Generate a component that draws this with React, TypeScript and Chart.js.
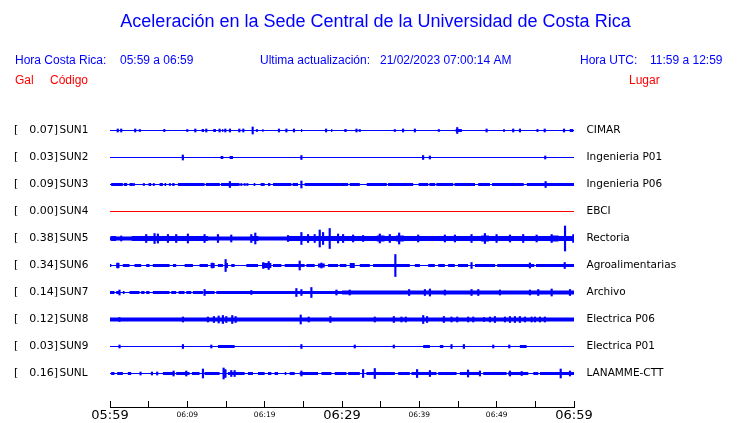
import React, { useEffect, useRef } from 'react';
import { Chart, registerables } from 'chart.js';

Chart.register(...registerables);

// ---------------- data ----------------
const titleText = 'Aceleración en la Sede Central de la Universidad de Costa Rica';
const localWindow = '05:59 a 06:59';
const utcWindow = '11:59 a 12:59';
const lastUpdate = '21/02/2023 07:00:14 AM';

const windowMinutes = 60; // minutes shown, starting 05:59
const tickMinutes = [0, 5, 10, 15, 20, 25, 30, 35, 40, 45, 50, 55, 60];
const tickLabels = ['05:59', '', '06:09', '', '06:19', '', '06:29', '', '06:39', '', '06:49', '', '06:59'];
const majorTickLabels = ['05:59', '06:29', '06:59'];

const stationCodes = ['SUN1', 'SUN2', 'SUN3', 'SUN4', 'SUN5', 'SUN6', 'SUN7', 'SUN8', 'SUN9', 'SUNL'];
const stationPlaces = ['CIMAR', 'Ingenieria P01', 'Ingenieria P06', 'EBCI', 'Rectoria', 'Agroalimentarias', 'Archivo', 'Electrica P06', 'Electrica P01', 'LANAMME-CTT'];
const peakGal = [0.07, 0.03, 0.09, 0.0, 0.38, 0.34, 0.14, 0.12, 0.03, 0.16];
// quiet-trace half amplitude (counts)
const quietLevel = [0.5, 0.5, 0.5, 0.5, 2, 0.5, 0.5, 2, 0.5, 0.5];

// bursts: [startMinute, endMinute, halfAmplitude]
const sun1Bursts = [[6.9, 7.15, 1.5], [11.85, 12.15, 1.5], [13.35, 13.7, 1.5], [14.5, 14.65, 1.5], [19.7, 19.85, 1.5], [24.7, 24.85, 1.5], [28.6, 28.75, 1.5], [30.3, 30.6, 1.5], [44.7, 45.5, 1.5], [50.85, 51.05, 1.5], [55.15, 55.4, 1.5], [59.45, 59.9, 1.5]];
const sun2Bursts = [[14.3, 14.65, 1.5], [15.47, 15.9, 1.5]];
const sun3Bursts = [[0.15, 1.66, 1.5], [1.79, 2.22, 1.5], [2.52, 2.96, 1.5], [4.98, 5.33, 1.5], [6.41, 6.84, 1.5], [7.05, 7.27, 1.5], [8.05, 8.35, 1.5], [8.78, 12.23, 1.5], [12.4, 14.2, 1.5], [14.35, 16.76, 1.5], [18.58, 18.79, 1.5], [19.48, 20.0, 1.5], [20.43, 20.73, 1.5], [21.08, 23.45, 1.5], [23.6, 24.31, 1.5], [25.17, 30.79, 1.5], [31.0, 32.3, 1.5], [33.2, 35.8, 1.5], [35.95, 39.2, 1.5], [39.9, 41.15, 1.5], [41.3, 42.05, 1.5], [42.2, 44.38, 1.5], [44.55, 47.2, 1.5], [47.6, 49.13, 1.5], [49.4, 53.5, 1.5], [53.9, 60, 1.5]];
const sun4Bursts = [];
const sun5Bursts = [[0.15, 0.8, 2.5], [2.8, 12.7, 2.5], [18.2, 19.2, 2.5], [23.0, 30.0, 2.5], [30.0, 34.5, 2.5], [34.5, 35.5, 3], [35.5, 37.0, 2.5], [37.0, 38.0, 3], [38.0, 48.0, 2.5], [48.0, 49.0, 3], [49.0, 57.0, 2.5], [57.0, 58.0, 3], [58.0, 60, 2.5]];
const sun6Bursts = [[0, 0.17, 1.5], [0.8, 1.23, 2.5], [1.66, 2.52, 1.5], [3.17, 4.03, 1.5], [4.68, 5.11, 1.5], [5.54, 7.7, 1.5], [8.14, 8.56, 1.5], [9.65, 10.72, 1.5], [11.58, 12.66, 1.5], [13.01, 13.53, 2.5], [13.96, 14.6, 1.5], [14.96, 15.25, 2.5], [15.68, 16.12, 1.5], [17.63, 19.14, 1.5], [19.66, 20.86, 2.5], [21.08, 22.16, 1.5], [22.59, 25.17, 1.5], [25.4, 26.47, 1.5], [26.9, 27.77, 2], [28.2, 29.49, 1.5], [29.71, 30.57, 1.5], [31.0, 31.65, 2.5], [32.3, 33.6, 1.5], [34.02, 38.77, 1.5], [39.42, 40.07, 1.5], [41.15, 42.0, 1.5], [42.44, 43.3, 1.5], [43.72, 44.59, 1.5], [45.0, 46.3, 1.5], [47.2, 49.8, 1.5], [50.07, 54.87, 1.5], [55.09, 60, 1.5]];
const sun7Bursts = [[0, 0.58, 1.5], [0.8, 1.23, 1.5], [1.66, 1.88, 1.5], [2.52, 3.82, 1.5], [4.03, 4.47, 1.5], [4.68, 5.11, 1.5], [5.54, 7.7, 1.5], [7.92, 8.56, 1.5], [8.87, 9.64, 1.5], [9.86, 10.51, 1.5], [10.72, 12.02, 1.5], [12.23, 13.53, 1.5], [13.74, 30.0, 1.5], [30.0, 60, 2]];
const sun8Bursts = [];
const sun9Bursts = [[13.96, 16.12, 1.5], [40.5, 41.36, 1.5], [42.65, 43.1, 1.5], [53.0, 53.87, 1.5]];
const sunlBursts = [[0.15, 0.58, 1.5], [0.93, 1.66, 1.5], [2.31, 2.74, 1.5], [6.84, 8.35, 1.5], [8.56, 10.29, 1.5], [10.59, 11.58, 1.5], [12.23, 14.17, 1.5], [14.6, 15.04, 3.5], [15.25, 17.41, 1.5], [17.84, 18.49, 1.5], [19.14, 20.0, 1.5], [20.43, 20.86, 1.5], [21.29, 21.73, 1.5], [22.59, 22.8, 1.5], [23.23, 23.88, 1.5], [24.53, 26.9, 1.5], [27.34, 28.63, 1.5], [29.06, 30.57, 1.5], [30.79, 32.3, 1.5], [33.16, 36.83, 1.5], [37.26, 38.77, 1.5], [38.98, 42.22, 1.5], [42.44, 44.81, 1.5], [45.24, 47.84, 1.5], [48.26, 51.28, 1.5], [51.5, 54.09, 1.5], [54.74, 55.38, 1.5], [55.6, 60, 1.5]];

// spikes: [minute, halfAmplitude]
const sun1Spikes = [[1.0, 1.5], [1.45, 1.5], [3.26, 1.5], [3.86, 1.0], [9.99, 1.0], [11.03, 1.5], [12.45, 1.5], [14.17, 1.5], [14.91, 1.5], [15.51, 1.5], [16.72, 1.5], [17.24, 1.5], [18.45, 3.5], [19.0, 1.0], [21.85, 1.5], [22.81, 1.5], [23.79, 1.5], [27.94, 1.5], [31.87, 1.5], [32.3, 1.0], [36.83, 1.0], [37.9, 1.5], [39.42, 1.5], [42.52, 1.0], [44.9, 3.0], [48.7, 1.5], [52.14, 1.5], [53.01, 1.5], [56.21, 1.5], [58.71, 1.5]];
const sun2Spikes = [[9.42, 2.5], [24.75, 2], [40.49, 2], [41.36, 1.5], [56.28, 1.5]];
const sun3Spikes = [[3.09, 1.0], [4.38, 1.0], [5.67, 1.0], [7.75, 1.0], [15.5, 3], [16.98, 1.0], [17.41, 1.0], [17.76, 1.0], [24.75, 3.5], [56.33, 3]];
const sun4Spikes = [];
const sun5Spikes = [[1.45, 2.5], [4.68, 4], [5.76, 5], [6.19, 4.5], [7.49, 4], [8.56, 4], [10.07, 4.5], [12.23, 4], [13.96, 4], [15.68, 3.5], [18.27, 4], [18.79, 5.5], [23.02, 3], [24.75, 6], [25.61, 4], [26.47, 4], [27.12, 8.5], [27.55, 6], [28.41, 10], [29.49, 4.5], [30.14, 4], [31.44, 3.5], [32.73, 3], [34.89, 4.5], [36.18, 4], [37.39, 5.5], [39.85, 3.5], [43.3, 3.5], [44.6, 3.5], [46.75, 4], [48.48, 5], [49.99, 4], [51.72, 3.5], [53.43, 4], [55.17, 3.5], [57.11, 4], [58.84, 12.5], [59.91, 4]];
const sun6Spikes = [[1.01, 2.5], [13.23, 2.5], [14.95, 6], [19.83, 3], [20.52, 4], [24.53, 4.5], [27.34, 2.5], [36.9, 11], [46.75, 3], [54.3, 2.5], [58.8, 3]];
const sun7Spikes = [[1.23, 2.5], [12.23, 3], [18.27, 2], [24.1, 4], [24.75, 3], [26.04, 5], [29.28, 2.5], [31.0, 2.5], [38.68, 3], [40.72, 3], [41.37, 3.5], [43.3, 2.5], [46.75, 3], [47.62, 3], [50.42, 2.5], [54.3, 2.5], [55.38, 3], [57.11, 3.5], [59.48, 3]];
const sun8Spikes = [[1.23, 2], [9.43, 2.5], [12.66, 2.5], [13.44, 3], [14.05, 3.5], [14.6, 4], [15.04, 3], [15.81, 4], [16.25, 3], [24.66, 4.5], [25.7, 2.5], [28.5, 3], [34.24, 2.5], [36.7, 3], [37.69, 2.5], [38.25, 2.5], [40.5, 4], [41.0, 3], [43.17, 3], [44.16, 2.5], [44.9, 2.5], [46.32, 2.5], [46.97, 2.5], [48.35, 2], [49.13, 2.5], [49.77, 3], [51.07, 2.5], [51.72, 3], [52.36, 3], [53.0, 3], [53.66, 2.5], [54.52, 2.5], [54.95, 2.5], [55.6, 2.5], [56.24, 2.5]];
const sun9Spikes = [[1.23, 1.5], [9.43, 2], [13.1, 1.5], [24.75, 2], [31.65, 1.5], [36.7, 1.5], [44.16, 2], [45.76, 2], [49.56, 1.5], [51.63, 1.5]];
const sunlSpikes = [[3.95, 1.5], [5.42, 1.5], [6.1, 1.5], [8.22, 2.5], [9.86, 2.5], [12.02, 4.5], [14.69, 5.5], [14.91, 4], [15.68, 3], [16.12, 3], [24.75, 2.5], [32.73, 4], [34.24, 5], [39.71, 4], [41.37, 3], [46.3, 3.5], [47.84, 2.5], [51.72, 2.5], [53.24, 2], [58.28, 4.5], [59.48, 2.5]];

const stationBursts = [sun1Bursts, sun2Bursts, sun3Bursts, sun4Bursts, sun5Bursts, sun6Bursts, sun7Bursts, sun8Bursts, sun9Bursts, sunlBursts];
const stationSpikes = [sun1Spikes, sun2Spikes, sun3Spikes, sun4Spikes, sun5Spikes, sun6Spikes, sun7Spikes, sun8Spikes, sun9Spikes, sunlSpikes];

// ---------------- style ----------------
const BLUE = '#0000ff';
const RED = '#ff0000';
const ROW = 27;
const headFont = '"Liberation Sans", Arial, sans-serif';
const labelFont = '"DejaVu Sans", sans-serif';

function traceColor(code: string) {
  return code === 'SUN4' ? RED : BLUE;
}

function envelope(base: number, bursts: number[][]) {
  const pts = [{ x: 0, y: base }];
  bursts.forEach(([s, e, a]) => {
    pts.push({ x: s, y: a });
    pts.push({ x: e, y: base });
  });
  pts.push({ x: windowMinutes, y: base });
  return pts;
}

const textPlugin = {
  id: 'sheetText',
  afterDraw(chart: any) {
    const { ctx } = chart;
    const ys = chart.scales.y;
    const n = stationCodes.length;
    ctx.save();
    ctx.textBaseline = 'middle';
    // title
    ctx.fillStyle = BLUE;
    ctx.textAlign = 'center';
    ctx.font = `18px ${headFont}`;
    ctx.fillText(titleText, 375.5, 22);
    // header
    ctx.textAlign = 'left';
    ctx.font = `12px ${headFont}`;
    ctx.fillText('Hora Costa Rica:', 15, 61);
    ctx.fillText(localWindow, 120, 61);
    ctx.fillText('Ultima actualización:', 260, 61);
    ctx.fillText(lastUpdate, 380, 61);
    ctx.fillText('Hora UTC:', 580, 61);
    ctx.fillText(utcWindow, 650, 61);
    ctx.fillStyle = RED;
    ctx.fillText('Gal', 15, 81);
    ctx.fillText('Código', 50, 81);
    ctx.fillText('Lugar', 629, 81);
    // station labels
    ctx.fillStyle = '#000';
    stationCodes.forEach((code, i) => {
      const y = ys.getPixelForValue((n - 1 - i) * ROW);
      ctx.font = `11px ${labelFont}`;
      ctx.textAlign = 'left';
      ctx.fillText('[', 14, y);
      ctx.textAlign = 'right';
      ctx.fillText(`${peakGal[i].toFixed(2)}]`, 58, y);
      ctx.font = `10.5px ${labelFont}`;
      ctx.textAlign = 'left';
      ctx.fillText(code, 59.5, y);
      ctx.fillText(stationPlaces[i], 586.5, y);
    });
    ctx.restore();
  },
};

export default function App() {
  const ref = useRef<HTMLCanvasElement | null>(null);

  useEffect(() => {
    const canvas = ref.current;
    if (!canvas) return;
    const n = stationCodes.length;
    const datasets: any[] = [];
    const spikeData: any[] = [];
    stationCodes.forEach((code, i) => {
      const off = (n - 1 - i) * ROW;
      const env = envelope(quietLevel[i], stationBursts[i]);
      const color = traceColor(code);
      datasets.push({
        type: 'line',
        data: env.map((p) => ({ x: p.x, y: off + p.y })),
        stepped: true,
        borderWidth: 0,
        borderColor: 'transparent',
        backgroundColor: color,
        pointRadius: 0,
        fill: false,
      });
      datasets.push({
        type: 'line',
        data: env.map((p) => ({ x: p.x, y: off - p.y })),
        stepped: true,
        borderWidth: 0,
        borderColor: 'transparent',
        backgroundColor: color,
        pointRadius: 0,
        fill: '-1',
      });
      stationSpikes[i].forEach(([m, a]) => {
        spikeData.push({ x: m, y: [off - a, off + a] });
      });
    });
    datasets.push({
      type: 'bar',
      data: spikeData,
      backgroundColor: BLUE,
      borderWidth: 0,
      barThickness: 1.5,
      grouped: false,
    });

    const chart = new Chart(canvas, {
      type: 'line',
      data: { datasets },
      options: {
        animation: false,
        responsive: false,
        devicePixelRatio: 1,
        layout: { padding: { left: 110, right: 166, top: 103, bottom: 0 } },
        plugins: { legend: { display: false }, tooltip: { enabled: false }, title: { display: false } },
        scales: {
          x: {
            type: 'linear',
            min: 0,
            max: windowMinutes,
            offset: false,
            afterBuildTicks: (s: any) => {
              s.ticks = tickMinutes.map((v) => ({ value: v }));
            },
            afterFit: (s: any) => {
              s.height = 16;
            },
            border: { display: true, color: '#000', width: 1 },
            grid: { drawOnChartArea: false, drawTicks: true, tickLength: -6, color: '#000', tickColor: '#000', offset: false },
            ticks: {
              autoSkip: false,
              maxRotation: 0,
              minRotation: 0,
              padding: 8,
              color: '#000',
              font: (c: any) =>
                majorTickLabels.includes(tickLabels[c.index])
                  ? { family: labelFont, size: 13, lineHeight: '14px' }
                  : { family: labelFont, size: 7.5, lineHeight: '12px' },
              callback: (_v: any, idx: number) => tickLabels[idx],
            },
          },
          y: { type: 'linear', display: false, min: -33.5, max: 270.5 },
        },
      },
      plugins: [textPlugin],
    } as any);
    return () => chart.destroy();
  }, []);

  return (
    <div style={{ position: 'fixed', left: 0, top: 0, width: 740, height: 423, background: '#fff' }}>
      <canvas ref={ref} width={740} height={423} style={{ display: 'block' }} />
    </div>
  );
}
